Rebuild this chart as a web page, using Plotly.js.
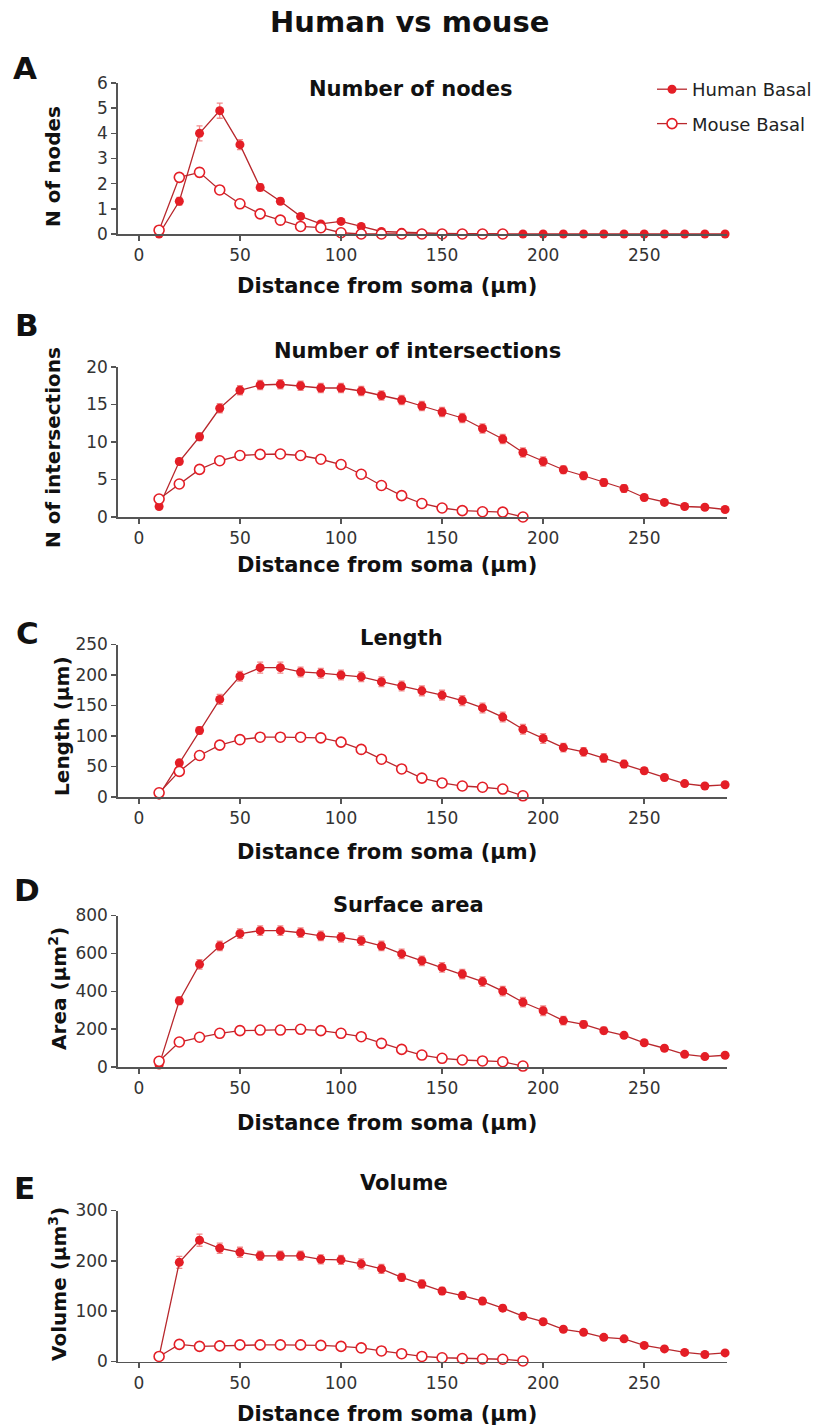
<!DOCTYPE html>
<html>
<head>
<meta charset="utf-8">
<script src="https://cdn.plot.ly/plotly-3.0.1.min.js"></script>
<style>html,body{margin:0;padding:0;background:#fff;}#chart{width:817px;height:1428px;}</style>
</head>
<body>
<div id="chart"></div>
<script>
// ---------- DATA ----------
const distance = [10,20,30,40,50,60,70,80,90,100,110,120,130,140,150,160,170,180,190,200,210,220,230,240,250,260,270,280,290];
const distanceMouse = [10,20,30,40,50,60,70,80,90,100,110,120,130,140,150,160,170,180,190];
const distanceMouseNodes = [10,20,30,40,50,60,70,80,90,100,110,120,130,140,150,160,170,180];

const humanNodes = [0,1.3,4.0,4.9,3.55,1.85,1.3,0.7,0.4,0.5,0.3,0.1,0.07,0.03,0.02,0.01,0,0,0,0,0,0,0,0,0,0,0,0,0];
const humanNodesErr = [0.03,0.15,0.3,0.3,0.2,0.15,0.12,0.08,0.06,0.08,0.05,0.03,0.03,0.02,0.02,0.01,0,0,0,0,0,0,0,0,0,0,0,0,0];
const mouseNodes = [0.15,2.25,2.45,1.75,1.2,0.8,0.55,0.3,0.25,0.05,0,0,0,0,0,0,0,0];
const mouseNodesErr = [0.05,0.12,0.18,0.15,0.12,0.08,0.06,0.05,0.04,0.03,0,0,0,0,0,0,0,0];

const humanInter = [1.4,7.4,10.7,14.5,16.9,17.6,17.7,17.5,17.2,17.2,16.8,16.2,15.6,14.8,14.0,13.2,11.8,10.4,8.6,7.4,6.3,5.5,4.6,3.8,2.6,1.95,1.4,1.3,1.0];
const humanInterErr = [0.2,0.4,0.5,0.6,0.6,0.6,0.6,0.6,0.6,0.6,0.6,0.6,0.6,0.6,0.6,0.6,0.6,0.6,0.6,0.6,0.5,0.5,0.5,0.5,0.4,0.3,0.3,0.3,0.3];
const mouseInter = [2.4,4.4,6.35,7.5,8.2,8.35,8.4,8.2,7.7,7.0,5.7,4.2,2.85,1.8,1.2,0.85,0.7,0.65,0];
const mouseInterErr = [0.2,0.25,0.3,0.3,0.3,0.3,0.3,0.3,0.3,0.3,0.3,0.3,0.25,0.2,0.15,0.15,0.1,0.1,0];

const humanLength = [3,56,109,160,198,212,212,205,203,200,197,189,182,174,167,158,146,131,111,96,81,74,64,54,43,32,22,18,20];
const humanLengthErr = [1,5,6,8,8,9,9,8,8,8,8,8,8,8,8,8,8,8,8,8,7,7,7,6,5,5,4,4,4];
const mouseLength = [7,42,68,85,94,98,98,98,97,90,78,62,46,31,23,18,16,13,2];
const mouseLengthErr = [2,3,4,4,4,4,4,4,4,4,4,4,3,3,3,3,2,2,1];

const humanArea = [10,350,542,639,704,720,720,709,692,685,667,639,597,561,526,491,451,401,342,297,245,225,192,167,128,99,67,55,62];
const humanAreaErr = [5,20,25,25,25,25,25,25,25,25,25,25,25,25,25,25,25,25,25,25,22,20,18,16,14,12,10,8,10];
const mouseArea = [30,132,157,178,192,195,195,199,192,178,160,125,93,63,46,37,32,28,5];
const mouseAreaErr = [8,10,10,10,10,10,10,10,10,10,10,10,8,8,6,6,5,5,2];

const humanVolume = [10,197,241,225,217,210,210,210,203,202,194,184,167,154,140,131,120,106,90,79,64,58,48,45,32,25,18,14,17];
const humanVolumeErr = [3,12,12,10,10,9,9,9,9,9,10,9,8,8,7,7,7,6,6,5,5,4,4,4,4,3,3,3,3];
const mouseVolume = [10,34,30,31,33,33,33,33,32,30,27,21,15.5,10,7.5,6,5,4.5,1];
const mouseVolumeErr = [2,3,3,3,3,3,3,3,3,3,3,2,2,2,1,1,1,1,0.5];

const panelLetters = ["A","B","C","D","E"];
const panelTitles = ["Number of nodes","Number of intersections","Length","Surface area","Volume"];
const yTitles = ["N of nodes","N of intersections","Length (\u00b5m)","Area (\u00b5m<sup>2</sup>)","Volume (\u00b5m<sup>3</sup>)"];
const yRanges = [[0,6],[0,20],[0,250],[0,800],[0,300]];
const yDticks = [1,5,50,200,100];
const xTickVals = [0,50,100,150,200,250];
const xTitle = "Distance from soma (\u00b5m)";
const mainTitle = "Human vs mouse";
const seriesNames = ["Human Basal","Mouse Basal"];

const humanSets = [humanNodes,humanInter,humanLength,humanArea,humanVolume];
const humanErrs = [humanNodesErr,humanInterErr,humanLengthErr,humanAreaErr,humanVolumeErr];
const mouseSets = [mouseNodes,mouseInter,mouseLength,mouseArea,mouseVolume];
const mouseErrs = [mouseNodesErr,mouseInterErr,mouseLengthErr,mouseAreaErr,mouseVolumeErr];
const mouseX = [distanceMouseNodes,distanceMouse,distanceMouse,distanceMouse,distanceMouse];

// ---------- GEOMETRY (pixels) ----------
const W = 817, H = 1428;
const fx = p => p / W;
const fy = p => 1 - p / H;
const plotLeft = 118, plotRight = 728;
const yPix = [[83,234],[367,517],[644.5,797],[915.5,1067],[1210.5,1361.5]];
const letterPos = [[25,68],[27,325],[28,633],[27,890],[25,1188]];
const titlePos = [[411,89],[418,351],[402,638],[409,905],[404,1183]];
const xTitleY = [286,565,852,1123,1414];
const xTitleX = 387;
const yTitlePos = [[53,166],[53,447],[62,726],[58,988],[58,1284]];

const RED = '#e41e26';
const LINE = '#b8282d';
const ERR = 'rgba(238,120,120,0.85)';
const AX = '#555555';
const FONT = 'DejaVu Sans, Liberation Sans, Arial, sans-serif';

const traces = [];
const layout = {
  width: W, height: H,
  margin: {l:0,r:0,t:0,b:0},
  paper_bgcolor: '#ffffff', plot_bgcolor: '#ffffff',
  font: {family: FONT, color: '#222', size: 17},
  showlegend: true,
  legend: {
    x: fx(653), y: fy(71), xanchor: 'left', yanchor: 'top',
    font: {family: FONT, size: 18, color: '#222'},
    bgcolor: 'rgba(0,0,0,0)', tracegroupgap: 8, itemwidth: 30
  },
  annotations: [],
};

for (let i = 0; i < 5; i++) {
  const sfx = i === 0 ? '' : String(i + 1);
  const xa = 'x' + sfx, ya = 'y' + sfx;
  traces.push({
    type: 'scatter', mode: 'lines+markers', name: seriesNames[0],
    legendgroup: 'h', showlegend: i === 0,
    x: distance, y: humanSets[i], xaxis: xa, yaxis: ya, cliponaxis: false,
    line: {color: LINE, width: 1.3},
    marker: {color: RED, size: 9, line: {width: 0}},
    error_y: {type: 'data', array: humanErrs[i], visible: true, color: ERR, thickness: 1.3, width: 3}
  });
  traces.push({
    type: 'scatter', mode: 'lines+markers', name: seriesNames[1],
    legendgroup: 'm', showlegend: i === 0,
    x: mouseX[i], y: mouseSets[i], xaxis: xa, yaxis: ya, cliponaxis: false,
    line: {color: LINE, width: 1.3},
    marker: {color: '#ffffff', size: 10, line: {color: RED, width: 1.6}},
    error_y: {type: 'data', array: mouseErrs[i], visible: true, color: ERR, thickness: 1.3, width: 3}
  });

  layout['xaxis' + sfx] = {
    domain: [fx(plotLeft), fx(plotRight)], anchor: ya,
    range: [-10.4, 291], tickvals: xTickVals, ticks: 'outside', ticklen: 5, tickwidth: 1.5,
    tickcolor: AX, showline: true, linecolor: AX, linewidth: 1.6, showgrid: false, zeroline: false,
    tickfont: {family: FONT, size: 17, color: '#333'}, fixedrange: true
  };
  layout['yaxis' + sfx] = {
    domain: [fy(yPix[i][1]), fy(yPix[i][0])], anchor: xa,
    range: yRanges[i], dtick: yDticks[i], tick0: 0, ticks: 'outside', ticklen: 5, tickwidth: 1.5,
    tickcolor: AX, showline: true, linecolor: AX, linewidth: 1.6, showgrid: false, zeroline: false,
    tickfont: {family: FONT, size: 17, color: '#333'}, fixedrange: true
  };

  layout.annotations.push({
    text: '<b>' + panelLetters[i] + '</b>', xref: 'paper', yref: 'paper',
    x: fx(letterPos[i][0]), y: fy(letterPos[i][1]), xanchor: 'center', yanchor: 'middle',
    showarrow: false, font: {family: FONT, size: 31, color: '#111'}
  });
  layout.annotations.push({
    text: '<b>' + panelTitles[i] + '</b>', xref: 'paper', yref: 'paper',
    x: fx(titlePos[i][0]), y: fy(titlePos[i][1]), xanchor: 'center', yanchor: 'middle',
    showarrow: false, font: {family: FONT, size: 21, color: '#111'}
  });
  layout.annotations.push({
    text: '<b>' + xTitle + '</b>', xref: 'paper', yref: 'paper',
    x: fx(xTitleX), y: fy(xTitleY[i]), xanchor: 'center', yanchor: 'middle',
    showarrow: false, font: {family: FONT, size: 21, color: '#111'}
  });
  layout.annotations.push({
    text: '<b>' + yTitles[i] + '</b>', xref: 'paper', yref: 'paper', textangle: -90,
    x: fx(yTitlePos[i][0]), y: fy(yTitlePos[i][1]), xanchor: 'center', yanchor: 'middle',
    showarrow: false, font: {family: FONT, size: 20, color: '#111'}
  });
}

layout.annotations.push({
  text: '<b>' + mainTitle + '</b>', xref: 'paper', yref: 'paper',
  x: fx(410), y: fy(22), xanchor: 'center', yanchor: 'middle',
  showarrow: false, font: {family: FONT, size: 29, color: '#111'}
});

Plotly.newPlot('chart', traces, layout, {displayModeBar: false, staticPlot: true});
</script>
</body>
</html>
